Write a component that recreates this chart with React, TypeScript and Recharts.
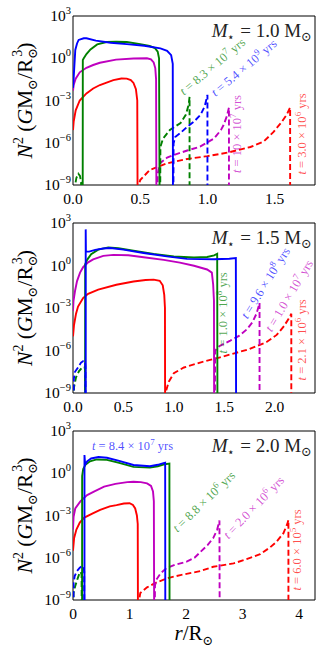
import React from "react";
import { LineChart, Line, XAxis, YAxis, ReferenceArea, ReferenceDot } from "recharts";

type Pt = [number, number];

// r / R_sun  vs  log10 N^2 ; -12 just means "runs off the bottom"
// ---- M = 1.0 Msun
const m10Red: Pt[] = [[0,-5.1],[0.005,-4.5],[0.02,-3.7],[0.05,-3.0],[0.1,-2.5],[0.15,-2.15],[0.2,-1.9],[0.3,-1.55],[0.36,-1.44],[0.4,-1.45],[0.43,-1.55],[0.45,-1.75],[0.468,-2.2],[0.478,-3.0],[0.481,-12]];
const m10RedD: Pt[] = [[0.485,-12],[0.49,-9.0],[0.5,-8.65],[0.57,-7.94],[0.7,-7.46],[0.85,-7.15],[1.0,-6.95],[1.15,-6.7],[1.32,-6.3],[1.42,-5.9],[1.49,-5.25],[1.55,-4.55],[1.59,-4.0],[1.615,-3.5],[1.615,-12]];
const m10Mag: Pt[] = [[0,-2.3],[0.005,-1.9],[0.02,-1.45],[0.05,-1.0],[0.1,-0.68],[0.15,-0.48],[0.2,-0.32],[0.32,-0.1],[0.45,-0.02],[0.55,0.0],[0.58,-0.08],[0.6,-0.3],[0.612,-0.7],[0.618,-1.5],[0.621,-12]];
const m10MagD: Pt[] = [[0.625,-12],[0.63,-8.2],[0.647,-7.46],[0.7,-7.05],[0.75,-6.87],[0.85,-6.55],[0.945,-6.28],[1.05,-5.69],[1.1,-5.1],[1.12,-4.74],[1.145,-4.1],[1.16,-3.5],[1.16,-12]];
const m10GrnD0: Pt[] = [[0.012,-12],[0.016,-9.0],[0.025,-8.5],[0.04,-8.2],[0.052,-8.35],[0.06,-8.8],[0.063,-12]];
const m10Grn: Pt[] = [[0.072,-12],[0.073,-0.12],[0.08,0.0],[0.1,0.3],[0.13,0.63],[0.18,0.98],[0.25,1.15],[0.32,1.17],[0.4,1.15],[0.5,1.0],[0.57,0.87],[0.61,0.72],[0.63,0.47],[0.64,0.0],[0.645,-12]];
const m10GrnD: Pt[] = [[0.648,-12],[0.65,-6.3],[0.67,-5.7],[0.72,-5.1],[0.8,-4.6],[0.84,-4.0],[0.86,-3.3],[0.867,-2.75],[0.867,-12]];
const m10Blu: Pt[] = [[0,-2.1],[0.005,-1.4],[0.017,0.59],[0.03,1.05],[0.042,1.3],[0.08,1.42],[0.1,1.42],[0.17,1.25],[0.28,1.1],[0.4,1.0],[0.53,0.89],[0.65,0.7],[0.7,0.53],[0.73,0.22],[0.742,-0.4],[0.744,-12]];
const m10BluD: Pt[] = [[0.746,-12],[0.748,-6.05],[0.76,-5.6],[0.8,-5.3],[0.85,-4.86],[0.9,-4.5],[0.95,-4.0],[0.98,-3.4],[1.0,-2.6],[1.0,-12]];

// ---- M = 1.5 Msun
const m15Red: Pt[] = [[0,-5.0],[0.01,-4.2],[0.03,-3.4],[0.05,-2.9],[0.1,-2.3],[0.15,-2.0],[0.25,-1.7],[0.43,-1.36],[0.6,-1.13],[0.72,-1.02],[0.8,-1.0],[0.86,-1.08],[0.89,-1.4],[0.905,-2.07],[0.912,-3.0],[0.914,-12]];
const m15RedD: Pt[] = [[0.918,-12],[0.925,-8.8],[0.95,-8.2],[1.0,-7.6],[1.1,-7.2],[1.26,-6.85],[1.45,-6.5],[1.6,-6.2],[1.75,-5.9],[1.92,-5.4],[2.02,-4.9],[2.09,-4.3],[2.14,-3.75],[2.165,-3.4],[2.165,-12]];
const m15Mag: Pt[] = [[0,-3.2],[0.005,-2.5],[0.02,-1.8],[0.04,-1.1],[0.07,-0.5],[0.1,-0.12],[0.15,0.22],[0.2,0.43],[0.3,0.68],[0.4,0.75],[0.55,0.72],[0.7,0.58],[0.9,0.4],[1.06,0.2],[1.2,-0.02],[1.33,-0.28],[1.377,-0.5],[1.39,-1.34],[1.398,-2.5],[1.4,-12]];
const m15MagD: Pt[] = [[1.405,-12],[1.41,-6.0],[1.45,-5.7],[1.56,-5.3],[1.65,-4.95],[1.725,-4.5],[1.78,-4.0],[1.82,-3.4],[1.85,-2.65],[1.85,-12]];
const m15GrnD0: Pt[] = [[0.005,-12],[0.01,-8.6],[0.03,-7.9],[0.06,-7.45],[0.09,-7.2],[0.115,-7.15],[0.12,-7.4],[0.122,-12]];
const m15Grn: Pt[] = [[0.12,-12],[0.121,0.1],[0.14,0.4],[0.18,0.8],[0.25,1.12],[0.35,1.28],[0.45,1.22],[0.6,1.05],[0.8,0.82],[1.0,0.64],[1.2,0.56],[1.33,0.6],[1.4,0.72],[1.43,0.83],[1.433,-12]];
const m15BluD0: Pt[] = [[0.005,-12],[0.008,-8.0],[0.02,-7.5],[0.05,-7.2],[0.08,-6.85],[0.1,-6.75],[0.118,-6.75],[0.123,-7.1],[0.124,-12]];
const m15Blu: Pt[] = [[0.126,-12],[0.126,2.55],[0.128,1.0],[0.16,0.98],[0.22,1.1],[0.3,1.2],[0.37,1.23],[0.5,1.12],[0.7,0.88],[0.93,0.64],[1.13,0.47],[1.4,0.44],[1.55,0.48],[1.615,0.52],[1.618,-12]];

// ---- M = 2.0 Msun
const m20Red: Pt[] = [[0,-5.5],[0.02,-4.6],[0.06,-4.0],[0.12,-3.5],[0.2,-3.15],[0.35,-2.85],[0.48,-2.6],[0.65,-2.35],[0.77,-2.26],[0.9,-2.15],[1.0,-2.13],[1.06,-2.25],[1.1,-2.5],[1.13,-3.0],[1.145,-3.6],[1.15,-12]];
const m20RedD: Pt[] = [[1.16,-12],[1.17,-9.0],[1.19,-8.5],[1.31,-8.1],[1.45,-7.8],[1.66,-7.46],[1.9,-7.23],[2.25,-6.95],[2.48,-6.64],[2.84,-6.4],[3.07,-6.1],[3.31,-5.75],[3.49,-5.25],[3.6,-4.86],[3.72,-4.27],[3.79,-3.6],[3.81,-3.32],[3.81,-12]];
const m20Mag: Pt[] = [[0,-4.0],[0.01,-3.1],[0.04,-2.5],[0.13,-2.0],[0.25,-1.55],[0.37,-1.3],[0.55,-0.95],[0.75,-0.75],[0.96,-0.63],[1.07,-0.6],[1.2,-0.63],[1.31,-0.72],[1.38,-0.9],[1.415,-1.3],[1.43,-2.0],[1.437,-12]];
const m20MagD: Pt[] = [[1.442,-12],[1.45,-8.0],[1.47,-7.58],[1.55,-7.1],[1.65,-6.75],[1.8,-6.5],[2.01,-6.28],[2.15,-6.0],[2.25,-5.6],[2.38,-5.1],[2.48,-4.6],[2.55,-4.0],[2.59,-3.35],[2.595,-12]];
const m20GrnD0: Pt[] = [[0.005,-12],[0.01,-8.5],[0.04,-8.0],[0.08,-7.5],[0.11,-7.15],[0.135,-7.0],[0.152,-7.2],[0.157,-12]];
const m20Grn: Pt[] = [[0.16,-12],[0.162,-0.2],[0.18,0.3],[0.22,0.6],[0.3,0.85],[0.42,0.98],[0.6,0.95],[0.8,0.75],[1.07,0.45],[1.36,0.4],[1.5,0.5],[1.6,0.62],[1.705,0.68],[1.708,-12]];
const m20BluD0: Pt[] = [[0.005,-12],[0.01,-7.8],[0.03,-7.3],[0.07,-6.95],[0.12,-6.7],[0.16,-6.6],[0.19,-6.65],[0.198,-7.0],[0.2,-12]];
const m20Blu: Pt[] = [[0.203,-12],[0.203,1.3],[0.215,0.6],[0.25,0.85],[0.32,1.05],[0.45,1.15],[0.6,1.1],[0.8,0.9],[1.07,0.59],[1.36,0.5],[1.5,0.6],[1.6,0.72],[1.63,0.75],[1.633,-12]];

// ages written on the curves: [mantissa, exponent]
const ages10 = { grn: ["8.3", "7"], blu: ["5.4", "9"], mag: ["10", "7"], red: ["3.0", "6"] };
const ages15 = { grn: ["1.0", "8"], blu: ["9.6", "8"], mag: ["1.0", "7"], red: ["2.1", "6"] };
const ages20 = { grn: ["8.8", "6"], blu: ["8.4", "7"], mag: ["2.0", "6"], red: ["6.0", "5"] };

const Y_TICKS = [1e-9, 1e-6, 1e-3, 1, 1e3];
const SERIF = '"Liberation Serif", "DejaVu Serif", serif';
const RED = "#ff0000";
const MAG = "#bf00bf";
const GRN = "#008000";
const BLU = "#0000ff";

const toRows = (pts: Pt[]) => pts.map(([x, l]) => ({ x, y: Math.pow(10, l) }));

function YTick(props: any) {
  const { x, y, payload } = props;
  const e = Math.round(Math.log10(payload.value));
  return (
    <text x={x} y={y} textAnchor="end" fontFamily={SERIF} fontSize={15.5} fill="#000">
      <tspan dy={5}>10</tspan>
      <tspan dy={-7} fontSize={10.5}>{e < 0 ? "\u2212" + -e : String(e)}</tspan>
    </text>
  );
}

function YLab(props: any) {
  const vb = props.viewBox;
  const cx = vb.x + 25;
  const cy = vb.y + vb.height / 2;
  return (
    <text x={cx} y={cy + 7} transform={`rotate(-90 ${cx} ${cy})`} textAnchor="middle" fontFamily={SERIF} fontSize={21.5} fill="#000">
      <tspan fontStyle="italic">N</tspan>
      <tspan dy={-9} fontSize={14}>2</tspan>
      <tspan dy={9}> (</tspan>
      <tspan fontStyle="italic">G</tspan>
      <tspan>M</tspan>
      <tspan dy={5} fontSize={13}>⊙</tspan>
      <tspan dy={-5}>/R</tspan>
      <tspan dy={5} fontSize={13}>⊙</tspan>
      <tspan dy={-15} dx={-9} fontSize={14}>3</tspan>
      <tspan dy={10}>)</tspan>
    </text>
  );
}

function XLab(props: any) {
  const vb = props.viewBox;
  const cx = vb.x + vb.width / 2;
  return (
    <text x={cx} y={vb.y + 40} textAnchor="middle" fontFamily={SERIF} fontSize={21} fill="#000">
      <tspan fontStyle="italic">r</tspan>
      <tspan>/R</tspan>
      <tspan dy={5} fontSize={13}>⊙</tspan>
    </text>
  );
}

function titleLabel(mass: string) {
  return (props: any) => {
    const vb = props.viewBox;
    return (
      <text x={vb.x + vb.width / 2 - 3} y={vb.y + vb.height / 2 + 21} textAnchor="end" fontFamily={SERIF} fontSize={19} fill="#222">
        <tspan fontStyle="italic">M</tspan>
        <tspan dy={4} fontSize={12}>⋆</tspan>
        <tspan dy={-4}>{` = ${mass} M`}</tspan>
        <tspan dy={4} fontSize={13}>⊙</tspan>
      </text>
    );
  };
}

function ageLabel(age: string[], color: string, angle: number) {
  return (props: any) => {
    const vb = props.viewBox;
    const cx = vb.x + vb.width / 2;
    const cy = vb.y + vb.height / 2;
    return (
      <text x={cx} y={cy + 4} transform={`rotate(${angle} ${cx} ${cy})`} textAnchor="middle" fontFamily={SERIF} fontSize={12.5} fill={color} fillOpacity={0.7}>
        <tspan fontStyle="italic">t</tspan>
        <tspan>{` = ${age[0]} × 10`}</tspan>
        <tspan dy={-5} fontSize={9}>{age[1]}</tspan>
        <tspan dy={5}> yrs</tspan>
      </text>
    );
  };
}

type Series = { pts: Pt[]; color: string; dashed?: boolean };
type Ann = { x: number; l: number; angle: number; color: string; age: string[] };

function Panel(p: {
  top: number; height: number; xmax: number; xticks: number[]; digits: number;
  series: Series[]; anns: Ann[]; mass: string; xlabel?: boolean;
}) {
  return (
    <div style={{ position: "absolute", left: 0, top: p.top, width: 329, height: p.height }}>
      <LineChart width={329} height={p.height} margin={{ top: 15, right: 14, bottom: 0, left: 0 }}>
        <XAxis
          dataKey="x" type="number" domain={[0, p.xmax]} ticks={p.xticks} allowDataOverflow
          tickFormatter={(v: number) => v.toFixed(p.digits)}
          tickLine={false} axisLine={false} tickSize={0} tickMargin={8}
          height={p.xlabel ? 50 : 28}
          tick={{ fill: "#000", fontSize: 15.5, fontFamily: SERIF }}
          label={p.xlabel ? { content: XLab } : undefined}
        />
        <YAxis
          type="number" scale="log" domain={[1e-9, 1e3]} allowDataOverflow ticks={Y_TICKS}
          tick={<YTick />} width={73} tickLine={false} axisLine={false} tickSize={0} tickMargin={2}
          label={{ content: YLab }}
        />
        {p.series.map((s, i) => (
          <Line
            key={i} data={toRows(s.pts)} dataKey="y" type="linear" stroke={s.color} strokeWidth={1.9}
            strokeDasharray={s.dashed ? "6 3" : undefined} dot={false} activeDot={false} isAnimationActive={false}
          />
        ))}
        <ReferenceArea x1={0} x2={p.xmax} y1={1e-9} y2={1e3} fill="none" stroke="#000" strokeWidth={1} ifOverflow="visible" />
        <ReferenceDot x={p.xmax} y={1e3} r={0} fill="none" stroke="none" ifOverflow="visible" label={{ content: titleLabel(p.mass) }} />
        {p.anns.map((a, i) => (
          <ReferenceDot key={"a" + i} x={a.x} y={Math.pow(10, a.l)} r={0} fill="none" stroke="none" ifOverflow="visible"
            label={{ content: ageLabel(a.age, a.color, a.angle) }} />
        ))}
      </LineChart>
    </div>
  );
}

export default function App() {
  return (
    <div style={{ position: "absolute", left: 0, top: 0, width: 329, height: 657, background: "#fff" }}>
      <Panel
        top={1} height={212} xmax={1.8} xticks={[0, 0.5, 1.0, 1.5]} digits={1} mass="1.0"
        series={[
          { pts: m10Red, color: RED }, { pts: m10RedD, color: RED, dashed: true },
          { pts: m10Mag, color: MAG }, { pts: m10MagD, color: MAG, dashed: true },
          { pts: m10GrnD0, color: GRN, dashed: true }, { pts: m10Grn, color: GRN }, { pts: m10GrnD, color: GRN, dashed: true },
          { pts: m10Blu, color: BLU }, { pts: m10BluD, color: BLU, dashed: true },
        ]}
        anns={[
          { x: 1.038, l: -0.6, angle: -40, color: GRN, age: ages10.grn },
          { x: 1.272, l: -0.69, angle: -40, color: BLU, age: ages10.blu },
          { x: 1.222, l: -5.38, angle: -90, color: MAG, age: ages10.mag },
          { x: 1.70, l: -5.38, angle: -90, color: RED, age: ages10.red },
        ]}
      />
      <Panel
        top={208} height={213} xmax={2.4} xticks={[0, 0.5, 1.0, 1.5, 2.0]} digits={1} mass="1.5"
        series={[
          { pts: m15Red, color: RED }, { pts: m15RedD, color: RED, dashed: true },
          { pts: m15Mag, color: MAG }, { pts: m15MagD, color: MAG, dashed: true },
          { pts: m15GrnD0, color: GRN, dashed: true }, { pts: m15Grn, color: GRN },
          { pts: m15BluD0, color: BLU, dashed: true }, { pts: m15Blu, color: BLU },
        ]}
        anns={[
          { x: 1.49, l: -3.34, angle: -90, color: GRN, age: ages15.grn },
          { x: 1.91, l: -1.24, angle: -58, color: BLU, age: ages15.blu },
          { x: 2.145, l: -2.13, angle: -59, color: MAG, age: ages15.mag },
          { x: 2.27, l: -5.25, angle: -90, color: RED, age: ages15.red },
        ]}
      />
      <Panel
        top={416} height={234} xmax={4.28} xticks={[0, 1, 2, 3, 4]} digits={0} mass="2.0" xlabel
        series={[
          { pts: m20Red, color: RED }, { pts: m20RedD, color: RED, dashed: true },
          { pts: m20Mag, color: MAG }, { pts: m20MagD, color: MAG, dashed: true },
          { pts: m20GrnD0, color: GRN, dashed: true }, { pts: m20Grn, color: GRN },
          { pts: m20BluD0, color: BLU, dashed: true }, { pts: m20Blu, color: BLU },
        ]}
        anns={[
          { x: 1.052, l: 1.93, angle: 0, color: BLU, age: ages20.blu },
          { x: 2.317, l: -2.02, angle: -44, color: GRN, age: ages20.grn },
          { x: 3.2, l: -2.43, angle: -46, color: MAG, age: ages20.mag },
          { x: 3.956, l: -5.45, angle: -90, color: RED, age: ages20.red },
        ]}
      />
    </div>
  );
}
